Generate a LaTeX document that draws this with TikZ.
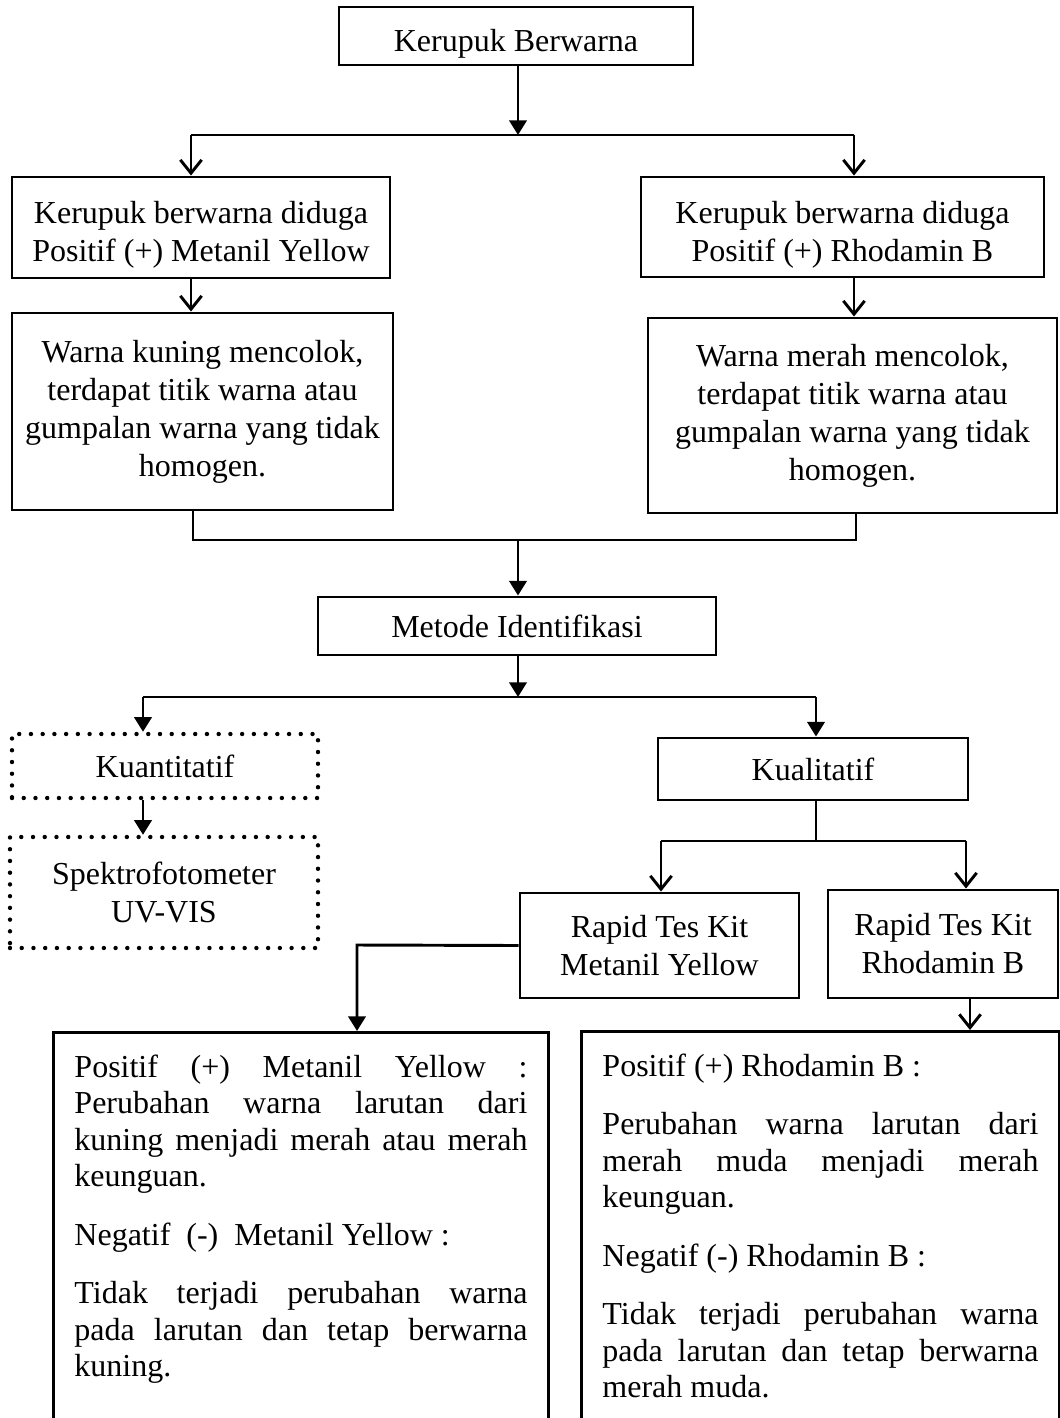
\documentclass[tikz,border=0pt]{standalone}
\usepackage{fontspec}
\setmainfont{Liberation Serif}
\usepackage{tikz}
\usetikzlibrary{calc}
\usetikzlibrary{arrows.meta}

\newcommand{\lowstrut}{\rule{0pt}{28pt}}

\tikzset{
 box/.style={draw, align=center, inner sep=0pt, font=\fontsize{24pt}{28.5pt}\selectfont},
 dotbox/.style={box, line width=3.3pt, line cap=round, dash pattern=on 0pt off 8.8pt},
 panel/.style={draw, align=justify, inner xsep=15.75pt, inner ysep=16.5pt, anchor=north west,
   font=\fontsize{24pt}{27.4pt}\selectfont},
 tipf/.style={-{Triangle[length=11pt,width=13pt]}},
 tipo/.style={-{Straight Barb[length=10pt,width=16pt]}},
}

\begin{document}
\begin{tikzpicture}[x=0.75pt, y=-0.75pt, line width=2.2pt]

\useasboundingbox (0,0) rectangle (1060,1418);
\clip (0,0) rectangle (1060,1418);

\node[box, minimum width=265.5pt, minimum height=43.5pt] (top) at (516,36) {\lowstrut Kerupuk Berwarna};
\node[box, minimum width=283.5pt, minimum height=75.75pt] (dugaMY) at (201,227.5) {\lowstrut Kerupuk berwarna diduga\\Positif (+) Metanil Yellow};
\node[box, minimum width=302.25pt, minimum height=75pt] (dugaRB) at (842.5,227) {\lowstrut Kerupuk berwarna diduga\\Positif (+) Rhodamin B};
\node[box, minimum width=285.75pt, minimum height=147.75pt] (cirMY) at (202.5,411.5) {Warna kuning mencolok,\\terdapat titik warna atau\\gumpalan warna yang tidak\\homogen.};
\node[box, minimum width=306.75pt, minimum height=146.25pt] (cirRB) at (852.5,415.5) {Warna merah mencolok,\\terdapat titik warna atau\\gumpalan warna yang tidak\\homogen.};
\node[box, minimum width=298.5pt, minimum height=43.5pt] (metode) at (517,626) {Metode Identifikasi};
\node[dotbox, minimum width=229.5pt, minimum height=48pt] (kuan) at (165,766) {Kuantitatif};
\node[dotbox, minimum width=231pt, minimum height=83.25pt] (spek) at (164,892.5) {Spektrofotometer\\UV-VIS};
\node[box, minimum width=232.5pt, minimum height=46.5pt] (kual) at (813,769) {Kualitatif};
\node[box, minimum width=209.25pt, minimum height=78.75pt] (kitMY) at (659.5,945.5) {Rapid Tes Kit\\Metanil Yellow};
\node[box, minimum width=172.5pt, minimum height=81pt] (kitRB) at (943,944) {Rapid Tes Kit\\Rhodamin B};

\node[panel, text width=339.75pt] (hasilMY) at (52,1031) {\setlength{\parskip}{16.5pt}\hyphenpenalty=10000 \exhyphenpenalty=10000 \hbadness=10000
Positif (+) Metanil Yellow :\linebreak Perubahan warna larutan dari\linebreak kuning menjadi merah atau merah\linebreak keunguan.

Negatif~~(-)~~Metanil Yellow :

Tidak terjadi perubahan warna\linebreak pada larutan dan tetap berwarna\linebreak kuning.\rule[-60pt]{0pt}{0pt}};
\node[panel, text width=327pt] (hasilRB) at (580,1030) {\setlength{\parskip}{16.5pt}\hyphenpenalty=10000 \exhyphenpenalty=10000 \hbadness=10000
Positif (+) Rhodamin B :

Perubahan warna larutan dari\linebreak merah muda menjadi merah\linebreak keunguan.

Negatif (-) Rhodamin B :

Tidak terjadi perubahan warna\linebreak pada larutan dan tetap berwarna\linebreak merah muda.\rule[-60pt]{0pt}{0pt}};

% branch points
\coordinate (j1) at (518,135);
\coordinate (j1l) at (191,135);
\coordinate (j1r) at (854,135);
\coordinate (j2) at (518,540);
\coordinate (j2l) at (193,540);
\coordinate (j2r) at (856,540);
\coordinate (j3) at (518,697);
\coordinate (j3l) at (143,697);
\coordinate (j3r) at (816,697);
\coordinate (j4) at (816,841);
\coordinate (j4l) at (661,841);
\coordinate (j4r) at (966,841);
\coordinate (k) at (357,945);

\draw[tipf] (j1 |- top.south) -- (j1);
\draw (j1l) -- (j1r);
\draw[tipo] (j1l) -- (j1l |- dugaMY.north);
\draw[tipo] (j1r) -- (j1r |- dugaRB.north);
\draw[tipo] (j1l |- dugaMY.south) -- (j1l |- cirMY.north);
\draw[tipo] (j1r |- dugaRB.south) -- (j1r |- cirRB.north);

\draw (j2l |- cirMY.south) -- (j2l) -- (j2r) -- (j2r |- cirRB.south);
\draw[tipf] (j2) -- (j2 |- metode.north);

\draw[tipf] (j3 |- metode.south) -- (j3);
\draw (j3l) -- (j3r);
\draw[tipf] (j3l) -- (j3l |- kuan.north);
\draw[tipf] (j3r) -- (j3r |- kual.north);
\draw[tipf] (j3l |- kuan.south) -- (j3l |- spek.north);

\draw (j4 |- kual.south) -- (j4);
\draw (j4l) -- (j4r);
\draw[tipo] (j4l) -- (j4l |- kitMY.north);
\draw[tipo] (j4r) -- (j4r |- kitRB.north);

\draw[tipf] (kitMY.west) -- (k) -- (k |- hasilMY.north);
\draw[tipo] ([xshift=3pt]j4r |- kitRB.south) -- ([xshift=3pt]j4r |- hasilRB.north);

\end{tikzpicture}
\end{document}
